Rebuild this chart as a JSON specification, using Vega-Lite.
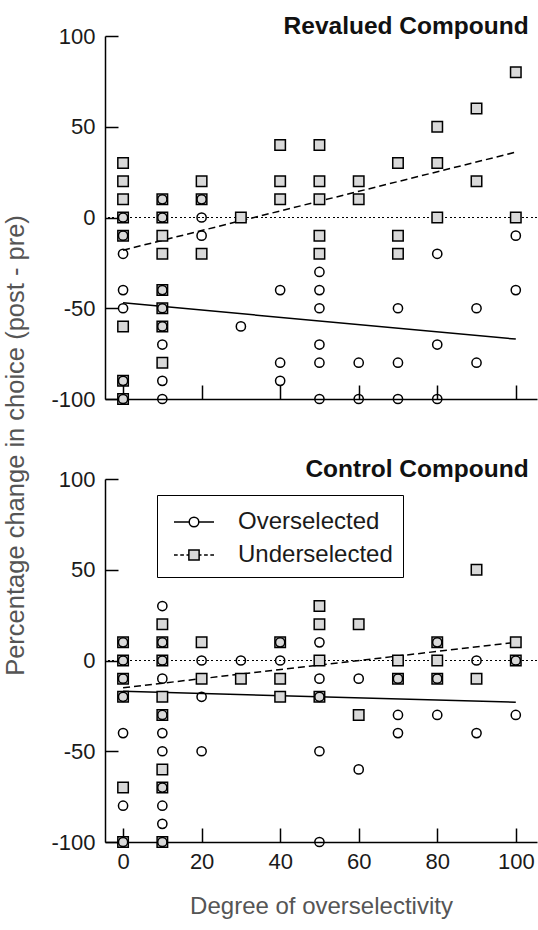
{
  "$schema": "https://vega.github.io/schema/vega-lite/v6.json",
  "padding": {"left": 3, "top": 13, "right": 0, "bottom": 8},
  "background": "white",
  "bounds": "flush",
  "spacing": 80,
  "config": {
    "view": {"stroke": null},
    "font": "Liberation Sans",
    "axis": {
      "grid": false, "domainColor": "black", "domainWidth": 1.5,
      "tickColor": "black", "tickWidth": 1.5,
      "labelColor": "#1a1a1a", "labelFontSize": 22, "labelFont": "Liberation Sans",
      "labelExpr": "replace(datum.label, '\u2212', '-')",
      "titleColor": "#555555", "titleFontSize": 24, "titleFontWeight": "normal", "titleFont": "Liberation Sans"
    },
    "legend": {
      "orient": "none", "legendX": 52, "legendY": 16, "title": null,
      "strokeColor": "black", "padding": 10, "rowPadding": 4, "symbolOffset": 10, "labelOffset": 27,
      "labelFontSize": 24, "labelColor": "#1a1a1a", "labelFont": "Liberation Sans",
      "symbolSize": 1024, "symbolStrokeWidth": 1.5, "symbolStrokeColor": "black", "symbolOpacity": 1
    },
    "title": {"font": "Liberation Sans", "fontSize": 24.5, "fontWeight": "bold", "color": "#111111", "anchor": "end"}
  },
  "data": {"values": [
    {"panel":"Revalued","kind":"pt","group":"Underselected","x":0,"y":30},
    {"panel":"Revalued","kind":"pt","group":"Underselected","x":0,"y":20},
    {"panel":"Revalued","kind":"pt","group":"Underselected","x":0,"y":10},
    {"panel":"Revalued","kind":"pt","group":"Underselected","x":0,"y":0},
    {"panel":"Revalued","kind":"pt","group":"Underselected","x":0,"y":-10},
    {"panel":"Revalued","kind":"pt","group":"Underselected","x":0,"y":-60},
    {"panel":"Revalued","kind":"pt","group":"Underselected","x":0,"y":-90},
    {"panel":"Revalued","kind":"pt","group":"Underselected","x":0,"y":-100},
    {"panel":"Revalued","kind":"pt","group":"Underselected","x":10,"y":10},
    {"panel":"Revalued","kind":"pt","group":"Underselected","x":10,"y":0},
    {"panel":"Revalued","kind":"pt","group":"Underselected","x":10,"y":-10},
    {"panel":"Revalued","kind":"pt","group":"Underselected","x":10,"y":-20},
    {"panel":"Revalued","kind":"pt","group":"Underselected","x":10,"y":-40},
    {"panel":"Revalued","kind":"pt","group":"Underselected","x":10,"y":-50},
    {"panel":"Revalued","kind":"pt","group":"Underselected","x":10,"y":-60},
    {"panel":"Revalued","kind":"pt","group":"Underselected","x":10,"y":-80},
    {"panel":"Revalued","kind":"pt","group":"Underselected","x":20,"y":20},
    {"panel":"Revalued","kind":"pt","group":"Underselected","x":20,"y":10},
    {"panel":"Revalued","kind":"pt","group":"Underselected","x":20,"y":-20},
    {"panel":"Revalued","kind":"pt","group":"Underselected","x":30,"y":0},
    {"panel":"Revalued","kind":"pt","group":"Underselected","x":40,"y":40},
    {"panel":"Revalued","kind":"pt","group":"Underselected","x":40,"y":20},
    {"panel":"Revalued","kind":"pt","group":"Underselected","x":40,"y":10},
    {"panel":"Revalued","kind":"pt","group":"Underselected","x":50,"y":40},
    {"panel":"Revalued","kind":"pt","group":"Underselected","x":50,"y":20},
    {"panel":"Revalued","kind":"pt","group":"Underselected","x":50,"y":10},
    {"panel":"Revalued","kind":"pt","group":"Underselected","x":50,"y":-10},
    {"panel":"Revalued","kind":"pt","group":"Underselected","x":50,"y":-20},
    {"panel":"Revalued","kind":"pt","group":"Underselected","x":60,"y":20},
    {"panel":"Revalued","kind":"pt","group":"Underselected","x":60,"y":10},
    {"panel":"Revalued","kind":"pt","group":"Underselected","x":70,"y":30},
    {"panel":"Revalued","kind":"pt","group":"Underselected","x":70,"y":-10},
    {"panel":"Revalued","kind":"pt","group":"Underselected","x":70,"y":-20},
    {"panel":"Revalued","kind":"pt","group":"Underselected","x":80,"y":50},
    {"panel":"Revalued","kind":"pt","group":"Underselected","x":80,"y":30},
    {"panel":"Revalued","kind":"pt","group":"Underselected","x":80,"y":0},
    {"panel":"Revalued","kind":"pt","group":"Underselected","x":90,"y":60},
    {"panel":"Revalued","kind":"pt","group":"Underselected","x":90,"y":20},
    {"panel":"Revalued","kind":"pt","group":"Underselected","x":100,"y":80},
    {"panel":"Revalued","kind":"pt","group":"Underselected","x":100,"y":0},
    {"panel":"Revalued","kind":"pt","group":"Overselected","x":0,"y":0},
    {"panel":"Revalued","kind":"pt","group":"Overselected","x":0,"y":-10},
    {"panel":"Revalued","kind":"pt","group":"Overselected","x":0,"y":-20},
    {"panel":"Revalued","kind":"pt","group":"Overselected","x":0,"y":-40},
    {"panel":"Revalued","kind":"pt","group":"Overselected","x":0,"y":-50},
    {"panel":"Revalued","kind":"pt","group":"Overselected","x":0,"y":-90},
    {"panel":"Revalued","kind":"pt","group":"Overselected","x":0,"y":-100},
    {"panel":"Revalued","kind":"pt","group":"Overselected","x":10,"y":10},
    {"panel":"Revalued","kind":"pt","group":"Overselected","x":10,"y":0},
    {"panel":"Revalued","kind":"pt","group":"Overselected","x":10,"y":-40},
    {"panel":"Revalued","kind":"pt","group":"Overselected","x":10,"y":-50},
    {"panel":"Revalued","kind":"pt","group":"Overselected","x":10,"y":-60},
    {"panel":"Revalued","kind":"pt","group":"Overselected","x":10,"y":-70},
    {"panel":"Revalued","kind":"pt","group":"Overselected","x":10,"y":-90},
    {"panel":"Revalued","kind":"pt","group":"Overselected","x":10,"y":-100},
    {"panel":"Revalued","kind":"pt","group":"Overselected","x":20,"y":10},
    {"panel":"Revalued","kind":"pt","group":"Overselected","x":20,"y":0},
    {"panel":"Revalued","kind":"pt","group":"Overselected","x":20,"y":-10},
    {"panel":"Revalued","kind":"pt","group":"Overselected","x":30,"y":-60},
    {"panel":"Revalued","kind":"pt","group":"Overselected","x":40,"y":-40},
    {"panel":"Revalued","kind":"pt","group":"Overselected","x":40,"y":-80},
    {"panel":"Revalued","kind":"pt","group":"Overselected","x":40,"y":-90},
    {"panel":"Revalued","kind":"pt","group":"Overselected","x":50,"y":-30},
    {"panel":"Revalued","kind":"pt","group":"Overselected","x":50,"y":-40},
    {"panel":"Revalued","kind":"pt","group":"Overselected","x":50,"y":-50},
    {"panel":"Revalued","kind":"pt","group":"Overselected","x":50,"y":-70},
    {"panel":"Revalued","kind":"pt","group":"Overselected","x":50,"y":-80},
    {"panel":"Revalued","kind":"pt","group":"Overselected","x":50,"y":-100},
    {"panel":"Revalued","kind":"pt","group":"Overselected","x":60,"y":-80},
    {"panel":"Revalued","kind":"pt","group":"Overselected","x":60,"y":-100},
    {"panel":"Revalued","kind":"pt","group":"Overselected","x":70,"y":-50},
    {"panel":"Revalued","kind":"pt","group":"Overselected","x":70,"y":-80},
    {"panel":"Revalued","kind":"pt","group":"Overselected","x":70,"y":-100},
    {"panel":"Revalued","kind":"pt","group":"Overselected","x":80,"y":-20},
    {"panel":"Revalued","kind":"pt","group":"Overselected","x":80,"y":-70},
    {"panel":"Revalued","kind":"pt","group":"Overselected","x":80,"y":-100},
    {"panel":"Revalued","kind":"pt","group":"Overselected","x":90,"y":-50},
    {"panel":"Revalued","kind":"pt","group":"Overselected","x":90,"y":-80},
    {"panel":"Revalued","kind":"pt","group":"Overselected","x":100,"y":-10},
    {"panel":"Revalued","kind":"pt","group":"Overselected","x":100,"y":-40},
    {"panel":"Control","kind":"pt","group":"Underselected","x":0,"y":10},
    {"panel":"Control","kind":"pt","group":"Underselected","x":0,"y":0},
    {"panel":"Control","kind":"pt","group":"Underselected","x":0,"y":-10},
    {"panel":"Control","kind":"pt","group":"Underselected","x":0,"y":-20},
    {"panel":"Control","kind":"pt","group":"Underselected","x":0,"y":-70},
    {"panel":"Control","kind":"pt","group":"Underselected","x":0,"y":-100},
    {"panel":"Control","kind":"pt","group":"Underselected","x":10,"y":20},
    {"panel":"Control","kind":"pt","group":"Underselected","x":10,"y":10},
    {"panel":"Control","kind":"pt","group":"Underselected","x":10,"y":0},
    {"panel":"Control","kind":"pt","group":"Underselected","x":10,"y":-20},
    {"panel":"Control","kind":"pt","group":"Underselected","x":10,"y":-30},
    {"panel":"Control","kind":"pt","group":"Underselected","x":10,"y":-60},
    {"panel":"Control","kind":"pt","group":"Underselected","x":10,"y":-70},
    {"panel":"Control","kind":"pt","group":"Underselected","x":10,"y":-100},
    {"panel":"Control","kind":"pt","group":"Underselected","x":20,"y":10},
    {"panel":"Control","kind":"pt","group":"Underselected","x":20,"y":-10},
    {"panel":"Control","kind":"pt","group":"Underselected","x":30,"y":-10},
    {"panel":"Control","kind":"pt","group":"Underselected","x":40,"y":10},
    {"panel":"Control","kind":"pt","group":"Underselected","x":40,"y":-10},
    {"panel":"Control","kind":"pt","group":"Underselected","x":40,"y":-20},
    {"panel":"Control","kind":"pt","group":"Underselected","x":50,"y":30},
    {"panel":"Control","kind":"pt","group":"Underselected","x":50,"y":20},
    {"panel":"Control","kind":"pt","group":"Underselected","x":50,"y":0},
    {"panel":"Control","kind":"pt","group":"Underselected","x":50,"y":-20},
    {"panel":"Control","kind":"pt","group":"Underselected","x":60,"y":20},
    {"panel":"Control","kind":"pt","group":"Underselected","x":60,"y":-30},
    {"panel":"Control","kind":"pt","group":"Underselected","x":70,"y":0},
    {"panel":"Control","kind":"pt","group":"Underselected","x":70,"y":-10},
    {"panel":"Control","kind":"pt","group":"Underselected","x":80,"y":10},
    {"panel":"Control","kind":"pt","group":"Underselected","x":80,"y":0},
    {"panel":"Control","kind":"pt","group":"Underselected","x":80,"y":-10},
    {"panel":"Control","kind":"pt","group":"Underselected","x":90,"y":50},
    {"panel":"Control","kind":"pt","group":"Underselected","x":90,"y":-10},
    {"panel":"Control","kind":"pt","group":"Underselected","x":100,"y":10},
    {"panel":"Control","kind":"pt","group":"Underselected","x":100,"y":0},
    {"panel":"Control","kind":"pt","group":"Overselected","x":0,"y":10},
    {"panel":"Control","kind":"pt","group":"Overselected","x":0,"y":0},
    {"panel":"Control","kind":"pt","group":"Overselected","x":0,"y":-10},
    {"panel":"Control","kind":"pt","group":"Overselected","x":0,"y":-20},
    {"panel":"Control","kind":"pt","group":"Overselected","x":0,"y":-40},
    {"panel":"Control","kind":"pt","group":"Overselected","x":0,"y":-80},
    {"panel":"Control","kind":"pt","group":"Overselected","x":0,"y":-100},
    {"panel":"Control","kind":"pt","group":"Overselected","x":10,"y":30},
    {"panel":"Control","kind":"pt","group":"Overselected","x":10,"y":10},
    {"panel":"Control","kind":"pt","group":"Overselected","x":10,"y":0},
    {"panel":"Control","kind":"pt","group":"Overselected","x":10,"y":-10},
    {"panel":"Control","kind":"pt","group":"Overselected","x":10,"y":-30},
    {"panel":"Control","kind":"pt","group":"Overselected","x":10,"y":-40},
    {"panel":"Control","kind":"pt","group":"Overselected","x":10,"y":-50},
    {"panel":"Control","kind":"pt","group":"Overselected","x":10,"y":-70},
    {"panel":"Control","kind":"pt","group":"Overselected","x":10,"y":-80},
    {"panel":"Control","kind":"pt","group":"Overselected","x":10,"y":-90},
    {"panel":"Control","kind":"pt","group":"Overselected","x":10,"y":-100},
    {"panel":"Control","kind":"pt","group":"Overselected","x":20,"y":0},
    {"panel":"Control","kind":"pt","group":"Overselected","x":20,"y":-20},
    {"panel":"Control","kind":"pt","group":"Overselected","x":20,"y":-50},
    {"panel":"Control","kind":"pt","group":"Overselected","x":30,"y":0},
    {"panel":"Control","kind":"pt","group":"Overselected","x":40,"y":10},
    {"panel":"Control","kind":"pt","group":"Overselected","x":40,"y":0},
    {"panel":"Control","kind":"pt","group":"Overselected","x":50,"y":10},
    {"panel":"Control","kind":"pt","group":"Overselected","x":50,"y":-10},
    {"panel":"Control","kind":"pt","group":"Overselected","x":50,"y":-20},
    {"panel":"Control","kind":"pt","group":"Overselected","x":50,"y":-50},
    {"panel":"Control","kind":"pt","group":"Overselected","x":50,"y":-100},
    {"panel":"Control","kind":"pt","group":"Overselected","x":60,"y":-10},
    {"panel":"Control","kind":"pt","group":"Overselected","x":60,"y":-60},
    {"panel":"Control","kind":"pt","group":"Overselected","x":70,"y":-10},
    {"panel":"Control","kind":"pt","group":"Overselected","x":70,"y":-30},
    {"panel":"Control","kind":"pt","group":"Overselected","x":70,"y":-40},
    {"panel":"Control","kind":"pt","group":"Overselected","x":80,"y":10},
    {"panel":"Control","kind":"pt","group":"Overselected","x":80,"y":-10},
    {"panel":"Control","kind":"pt","group":"Overselected","x":80,"y":-30},
    {"panel":"Control","kind":"pt","group":"Overselected","x":90,"y":0},
    {"panel":"Control","kind":"pt","group":"Overselected","x":90,"y":-40},
    {"panel":"Control","kind":"pt","group":"Overselected","x":100,"y":0},
    {"panel":"Control","kind":"pt","group":"Overselected","x":100,"y":-30},
    {"panel":"Revalued","kind":"fit","group":"Overselected","x":0,"y":-47},
    {"panel":"Revalued","kind":"fit","group":"Overselected","x":100,"y":-67},
    {"panel":"Revalued","kind":"fit","group":"Underselected","x":0,"y":-18},
    {"panel":"Revalued","kind":"fit","group":"Underselected","x":100,"y":36},
    {"panel":"Control","kind":"fit","group":"Overselected","x":0,"y":-17},
    {"panel":"Control","kind":"fit","group":"Overselected","x":100,"y":-23},
    {"panel":"Control","kind":"fit","group":"Underselected","x":0,"y":-15},
    {"panel":"Control","kind":"fit","group":"Underselected","x":100,"y":10}
  ]},
  "resolve": {"scale": {"x": "independent", "y": "independent", "shape": "independent", "fill": "independent", "stroke": "independent"}},
  "vconcat": [
    {
      "width": 432, "height": 363,
      "title": {"text": "Revalued Compound", "offset": -14, "dx": -9},
      "transform": [{"filter": "datum.panel === 'Revalued'"}],
      "encoding": {
        "x": {"field": "x", "type": "quantitative", "scale": {"domain": [-4.6, 105.4], "nice": false, "zero": false},
              "axis": {"values": [0, 20, 40, 60, 80, 100], "labels": false, "title": null, "tickSize": -14}},
        "y": {"field": "y", "type": "quantitative", "scale": {"domain": [-100, 100], "nice": false},
              "axis": {"values": [-100, -50, 0, 50, 100], "tickSize": -13, "labelPadding": 23,
                       "title": "Percentage change in choice (post - pre)", "titleX": -90, "titleY": 409,
                       "titleFontSize": 25.5,
                       "titleAngle": 270, "titleAlign": "center", "titleBaseline": "middle"}}
      },
      "layer": [
        {"mark": {"type": "rule", "strokeDash": [1.5, 3], "color": "black", "strokeWidth": 1.2},
         "encoding": {"y": {"datum": 0}, "x": null}},
        {"transform": [{"filter": "datum.kind === 'fit' && datum.group === 'Overselected'"}],
         "mark": {"type": "line", "color": "black", "strokeWidth": 1.5}},
        {"transform": [{"filter": "datum.kind === 'fit' && datum.group === 'Underselected'"}],
         "mark": {"type": "line", "color": "black", "strokeWidth": 1.5, "strokeDash": [7, 4]}},
        {"transform": [{"filter": "datum.kind === 'pt' && datum.group === 'Underselected'"}],
         "mark": {"type": "point", "shape": "square", "filled": true, "fill": "#d9d9d9", "stroke": "black", "strokeWidth": 1.5, "size": 110, "opacity": 1}},
        {"transform": [{"filter": "datum.kind === 'pt' && datum.group === 'Overselected'"}],
         "mark": {"type": "point", "shape": "circle", "filled": false, "stroke": "black", "strokeWidth": 1.5, "size": 85, "opacity": 1}}
      ]
    },
    {
      "width": 432, "height": 363,
      "title": {"text": "Control Compound", "offset": -14, "dx": -9},
      "transform": [{"filter": "datum.panel === 'Control'"}],
      "encoding": {
        "x": {"field": "x", "type": "quantitative", "scale": {"domain": [-4.6, 105.4], "nice": false, "zero": false},
              "axis": {"values": [0, 20, 40, 60, 80, 100], "tickSize": -14, "labelPadding": 23, "labelFontSize": 22,
                       "title": "Degree of overselectivity", "titlePadding": 22}},
        "y": {"field": "y", "type": "quantitative", "scale": {"domain": [-100, 100], "nice": false},
              "axis": {"values": [-100, -50, 0, 50, 100], "tickSize": -13, "labelPadding": 23, "title": null}}
      },
      "layer": [
        {"mark": {"type": "rule", "strokeDash": [1.5, 3], "color": "black", "strokeWidth": 1.2},
         "encoding": {"y": {"datum": 0}, "x": null}},
        {"transform": [{"filter": "datum.kind === 'fit' && datum.group === 'Overselected'"}],
         "mark": {"type": "line", "color": "black", "strokeWidth": 1.5}},
        {"transform": [{"filter": "datum.kind === 'fit' && datum.group === 'Underselected'"}],
         "mark": {"type": "line", "color": "black", "strokeWidth": 1.5, "strokeDash": [7, 4]}},
        {"transform": [{"filter": "datum.kind === 'pt' && datum.group === 'Underselected'"}],
         "mark": {"type": "point", "shape": "square", "filled": true, "fill": "#d9d9d9", "stroke": "black", "strokeWidth": 1.5, "size": 110, "opacity": 1}},
        {"transform": [{"filter": "datum.kind === 'pt' && datum.group === 'Overselected'"}],
         "mark": {"type": "point", "shape": "circle", "filled": false, "stroke": "black", "strokeWidth": 1.5, "size": 85, "opacity": 1}},
        {"transform": [{"filter": "datum.kind === 'legend-only'"}],
         "mark": {"type": "point", "filled": true, "strokeWidth": 1.5, "opacity": 1},
         "encoding": {
           "shape": {"field": "group", "type": "nominal",
             "scale": {"domain": ["Overselected", "Underselected"],
                       "range": ["M-1.25,0H-0.3M0.3,0H1.25M-0.3,0A0.3,0.3 0 1,0 0.3,0A0.3,0.3 0 1,0 -0.3,0Z",
                                 "M-1.25,0H-1.02M-0.86,0H-0.63M-0.47,0H-0.32M0.32,0H0.47M0.63,0H0.86M1.02,0H1.25M-0.32,-0.32H0.32V0.32H-0.32Z"]}},
           "fill": {"field": "group", "type": "nominal",
             "scale": {"domain": ["Overselected", "Underselected"], "range": ["transparent", "#d9d9d9"]}},
           "stroke": {"field": "group", "type": "nominal",
             "scale": {"domain": ["Overselected", "Underselected"], "range": ["black", "black"]}}
         }}
      ]
    }
  ]
}
